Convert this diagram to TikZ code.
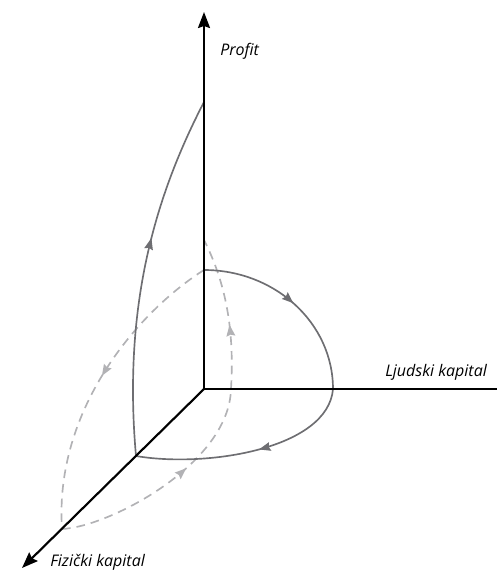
\documentclass[tikz,border=0pt]{standalone}
\usepackage{fontspec}
\newfontfamily\axisfont{Open Sans}
\usetikzlibrary{arrows.meta, decorations.markings}
\definecolor{cdark}{HTML}{6E6E72}
\definecolor{clight}{HTML}{B2B2B5}
\tikzset{
  every picture/.style={x=0.75pt, y=0.75pt},
  axis/.style={draw=black, line width=1.6pt},
  axistip/.style={-{Stealth[length=12pt, width=9pt, inset=1.5pt]}},
  axislabel/.style={font=\axisfont\itshape\fontsize{12}{14}\selectfont, anchor=base west, inner sep=0pt},
  front/.style={draw=cdark, line width=1.25pt},
  back/.style={draw=clight, line width=1.25pt, dash pattern=on 6.5pt off 4.5pt},
  flowarrow/.style={postaction={decorate, decoration={markings,
      mark=at position #1 with {\arrow{Stealth[length=8.5pt, width=6.5pt, inset=1pt]}}}}},
  flowarrow/.default=0.5,
}
\begin{document}
\begin{tikzpicture}
  \useasboundingbox (-204,-181) rectangle (293,389);
  % axes
  \coordinate (O) at (0,0);
  \coordinate (ztip) at (0,377);
  \coordinate (xend) at (293,0);
  \coordinate (ytip) at (-182,-179);
  % points where the paths meet the axes
  \coordinate (p1) at (0,119);
  \coordinate (p2) at (0,287);
  \coordinate (p3) at (0,149);
  \coordinate (h1) at (129,0);
  \coordinate (q) at (27,0);
  \coordinate (d1) at (-68,-67);
  \coordinate (d2) at (-142,-140);

  % hidden paths
  \draw[back, flowarrow=0.48] (p1) .. controls +(-65,-41) and +(-8,120) .. (d2);
  \draw[back, flowarrow=0.6] (d2) .. controls +(47,2) and +(-2,-75) .. (q);
  \draw[back, flowarrow=0.42] (q) .. controls +(3,50) and +(25,-49) .. (p3);

  % visible paths
  \draw[front, flowarrow=0.5] (p1) .. controls +(71,0) and +(0,66) .. (h1);
  \draw[front, flowarrow=0.45] (h1) .. controls +(-5,-60) and +(70,-12) .. (d1);
  \draw[front, flowarrow=0.6] (d1) .. controls +(-14,157) and +(-45,-87) .. (p2);

  \draw[axis, axistip] (O) -- (ztip);
  \draw[axis] (O) -- (xend);
  \draw[axis, axistip] (O) -- (ytip);

  \node[axislabel] (lprofit) at (16,333) {Profit};
  \node[axislabel] (lljudski) at (181,12) {Ljudski kapital};
  \node[axislabel] (lfizicki) at (-154,-177) {Fizički kapital};
\end{tikzpicture}
\end{document}
